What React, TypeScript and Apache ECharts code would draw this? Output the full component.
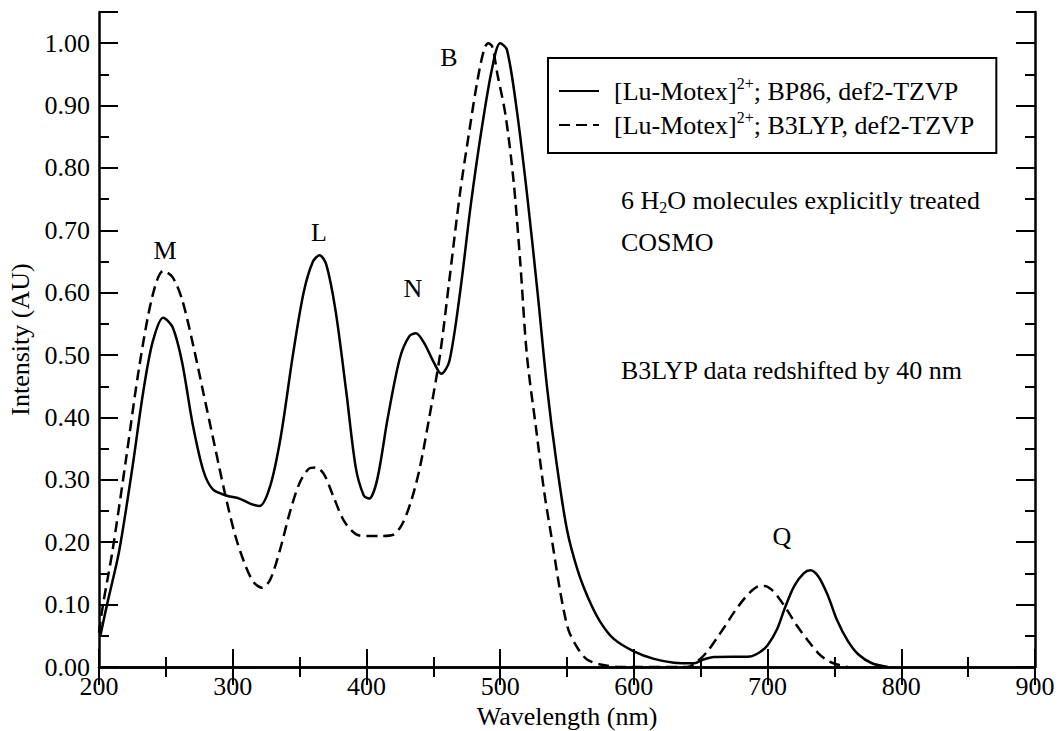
import React, { useEffect, useRef } from 'react';
import * as echarts from 'echarts';

const FONT = 'Liberation Serif, Times New Roman, serif';
const FS = 26;

const seriesNames = ['BP86', 'B3LYP'];

const bp86Wavelength = [
  201, 206, 215, 225, 233, 240, 248, 255, 262, 270, 278, 285, 295, 305, 313, 320,
  328, 336, 345, 353, 360, 365, 370, 377, 385, 392, 398, 402, 408, 416, 425, 432,
  437, 443, 450, 456, 462, 470, 478, 486, 494, 500, 505, 512, 520, 528, 535, 542,
  550, 558, 566, 575, 585, 600, 615, 630, 645, 652, 660, 687, 695, 700, 707, 713,
  720, 727, 732, 738, 745, 752, 760, 768, 778, 790,
];
const bp86Intensity = [
  0.05, 0.1, 0.185, 0.32, 0.44, 0.52, 0.56, 0.545, 0.49, 0.39, 0.315, 0.285, 0.275, 0.27, 0.262, 0.258,
  0.29, 0.37, 0.5, 0.6, 0.65, 0.66, 0.645, 0.57, 0.44, 0.32, 0.275, 0.27, 0.3, 0.4, 0.495, 0.53,
  0.535, 0.52, 0.49, 0.47, 0.49, 0.6, 0.74, 0.86, 0.96, 1.0, 0.99, 0.9, 0.76, 0.6, 0.45, 0.33,
  0.22, 0.155, 0.11, 0.072, 0.045, 0.025, 0.013, 0.007, 0.006, 0.012, 0.016, 0.017, 0.025, 0.035, 0.06, 0.095,
  0.13, 0.15, 0.155, 0.145, 0.115, 0.075, 0.042, 0.02, 0.006, 0.0,
];

const b3lypWavelength = [
  200, 203, 210, 220, 230, 240, 248, 255, 262, 270, 278, 286, 294, 302, 310, 316,
  322, 328, 335, 343, 350, 357, 362, 368, 375, 383, 392, 400, 410, 420, 427, 434,
  440, 447, 455, 462, 470, 477, 483, 488, 491, 494, 498, 504, 510, 515, 520, 527,
  533, 539, 545, 551, 558, 565, 575, 590, 640, 648, 655, 662, 668, 675, 682, 688,
  694, 698, 703, 708, 715, 722, 730, 738, 745, 752, 760,
];
const b3lypIntensity = [
  0.055, 0.1, 0.185, 0.33, 0.48, 0.595, 0.635, 0.625, 0.59, 0.52, 0.44, 0.36, 0.28, 0.21, 0.16, 0.135,
  0.127, 0.14, 0.185, 0.25, 0.295, 0.318, 0.32, 0.31, 0.275, 0.235, 0.213, 0.21, 0.21, 0.212, 0.23, 0.27,
  0.32, 0.4, 0.5, 0.62, 0.76, 0.86, 0.94, 0.99, 1.0, 0.995, 0.95, 0.885, 0.78, 0.65, 0.5, 0.38,
  0.28, 0.2, 0.12, 0.06, 0.03, 0.012, 0.004, 0.0, 0.0, 0.01, 0.025, 0.046, 0.065, 0.088, 0.108, 0.122,
  0.13, 0.13, 0.124, 0.112, 0.09, 0.066, 0.043, 0.022, 0.01, 0.004, 0.0,
];

const peakLabels = ['M', 'L', 'N', 'B', 'Q'];

const legendTexts: Record<string, string> = {
  BP86: '[Lu-Motex]{sup|2+}; BP86, def2-TZVP',
  B3LYP: '[Lu-Motex]{sup|2+}; B3LYP, def2-TZVP',
};

export default function App() {
  const ref = useRef<HTMLDivElement>(null);

  useEffect(() => {
    if (!ref.current) return;
    const chart = echarts.init(ref.current, undefined, { renderer: 'svg' });

    const axisLine = { show: true, lineStyle: { color: '#000', width: 2.5 } };
    const majorTick = { show: true, inside: true, length: 19, lineStyle: { color: '#000', width: 2 } };
    const minorTick = { show: true, inside: true, length: 10, lineStyle: { color: '#000', width: 2 } };
    const labelStyle = { fontFamily: FONT, fontSize: FS, color: '#000' };

    const peakPos = [
      [165, 250],
      [319, 232],
      [413, 288],
      [449, 57],
      [782, 536],
    ];

    const option: any = {
      animation: false,
      backgroundColor: '#fff',
      textStyle: { fontFamily: FONT },
      grid: { left: 99, right: 24, top: 12, bottom: 64, containLabel: false, outerBoundsMode: 'none' },
      xAxis: [
        {
          type: 'value', position: 'bottom', min: 200, max: 900, interval: 100,
          axisLine, axisTick: { ...majorTick, length: 18 },
          minorTick: { ...minorTick, splitNumber: 2 },
          splitLine: { show: false }, minorSplitLine: { show: false },
          axisLabel: { ...labelStyle, margin: 6, showMinLabel: true, showMaxLabel: true },
          name: 'Wavelength (nm)', nameLocation: 'middle', nameGap: 30,
          nameTextStyle: { fontFamily: FONT, fontSize: FS, color: '#000' },
        },
        {
          type: 'value', position: 'top', min: 200, max: 900, interval: 100,
          axisLine, axisTick: { ...majorTick, length: 18 },
          minorTick: { ...minorTick, splitNumber: 2 },
          splitLine: { show: false }, axisLabel: { show: false },
        },
      ],
      yAxis: [
        {
          type: 'value', position: 'left', min: 0, max: 1.05, interval: 0.1,
          axisLine, axisTick: majorTick, splitLine: { show: false },
          axisLabel: {
            ...labelStyle, margin: 9, showMinLabel: true, showMaxLabel: true,
            formatter: (v: number) => (v > 1.001 ? '' : v.toFixed(2)),
          },
          name: 'Intensity (AU)', nameLocation: 'middle', nameGap: 64,
          nameTextStyle: { fontFamily: FONT, fontSize: FS, color: '#000' },
        },
        {
          type: 'value', position: 'left', min: 0, max: 1.05, interval: 0.05,
          axisLine: { show: false }, axisTick: minorTick, splitLine: { show: false },
          axisLabel: { show: false },
        },
        {
          type: 'value', position: 'right', min: 0, max: 1.05, interval: 0.1,
          axisLine, axisTick: majorTick, splitLine: { show: false },
          axisLabel: { show: false },
        },
        {
          type: 'value', position: 'right', min: 0, max: 1.05, interval: 0.05,
          axisLine: { show: false }, axisTick: minorTick, splitLine: { show: false },
          axisLabel: { show: false },
        },
      ],
      legend: {
        show: true,
        orient: 'vertical',
        left: 548,
        top: 58,
        padding: [17, 22, 12, 10],
        itemGap: 2,
        itemWidth: 40,
        itemHeight: 20,
        borderColor: '#000',
        borderWidth: 2,
        selectedMode: false,
        data: seriesNames,
        itemStyle: { opacity: 0 },
        formatter: (name: string) => legendTexts[name],
        textStyle: {
          fontFamily: FONT, fontSize: FS, color: '#000', lineHeight: 32,
          padding: [0, 0, 0, 10],
          rich: {
            sup: { fontFamily: FONT, fontSize: 16, color: '#000', verticalAlign: 'top', lineHeight: 32 },
          },
        },
      },
      series: [
        {
          name: seriesNames[0], type: 'line', xAxisIndex: 0, yAxisIndex: 0,
          symbol: 'none', showSymbol: false, smooth: 0.3, color: '#000',
          itemStyle: { color: '#000' },
          lineStyle: { color: '#000', width: 2.5, type: 'solid' },
          data: bp86Wavelength.map((w, i) => [w, bp86Intensity[i]]),
        },
        {
          name: seriesNames[1], type: 'line', xAxisIndex: 0, yAxisIndex: 0,
          symbol: 'none', showSymbol: false, smooth: 0.3, color: '#000',
          itemStyle: { color: '#000' },
          lineStyle: { color: '#000', width: 2.5, type: [11, 6] },
          data: b3lypWavelength.map((w, i) => [w, b3lypIntensity[i]]),
        },
      ],
      graphic: [
        ...peakLabels.map((t, i) => ({
          type: 'text', x: peakPos[i][0], y: peakPos[i][1], silent: true,
          style: { text: t, fontFamily: FONT, fontSize: FS, fill: '#000', align: 'center', verticalAlign: 'middle' },
        })),
        {
          type: 'text', x: 621, y: 200, silent: true,
          style: {
            text: '6 H{sub|2}O molecules explicitly treated',
            fontFamily: FONT, fontSize: FS, fill: '#000', align: 'left', verticalAlign: 'middle', lineHeight: 30,
            rich: { sub: { fontFamily: FONT, fontSize: 16, fill: '#000', verticalAlign: 'bottom', lineHeight: 30 } },
          },
        },
        {
          type: 'text', x: 621, y: 242, silent: true,
          style: { text: 'COSMO', fontFamily: FONT, fontSize: FS, fill: '#000', align: 'left', verticalAlign: 'middle' },
        },
        {
          type: 'text', x: 621, y: 370, silent: true,
          style: { text: 'B3LYP data redshifted by 40 nm', fontFamily: FONT, fontSize: FS, fill: '#000', align: 'left', verticalAlign: 'middle' },
        },
      ],
    };

    chart.setOption(option);
    return () => chart.dispose();
  }, []);

  return (
    <div
      ref={ref}
      style={{ position: 'absolute', left: 0, top: 0, width: 1059, height: 731, background: '#fff' }}
    />
  );
}
